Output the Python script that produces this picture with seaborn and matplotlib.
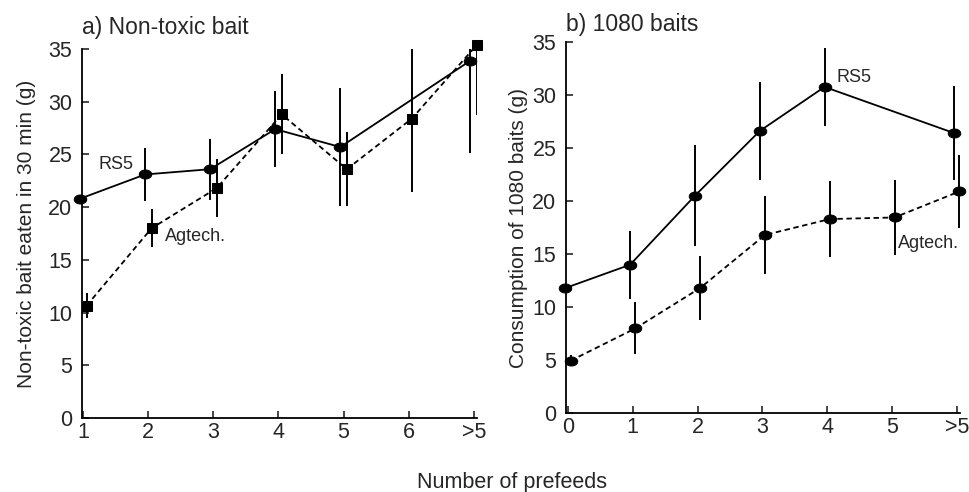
import matplotlib
matplotlib.use("Agg")
import matplotlib.pyplot as plt
import numpy as np
import pandas as pd
import seaborn as sns

# panel a) non-toxic bait, x positions 1..6 and ">5" (7)
a_ticks = [1, 2, 3, 4, 5, 6, 7]
a_labels = ["1", "2", "3", "4", "5", "6", ">5"]
a_rs5_x = [1, 2, 3, 4, 5, 7]
a_rs5_y = [20.8, 23.1, 23.6, 27.4, 25.7, 33.9]
a_rs5_err = [2.0, 2.5, 2.9, 3.6, 5.6, 8.8]
a_agt_x = [1, 2, 3, 4, 5, 6, 7]
a_agt_y = [10.65, 18.0, 21.8, 28.8, 23.6, 28.4, 35.4]
a_agt_err = [1.2, 1.8, 2.75, 3.8, 3.5, 7.0, 6.7]

# panel b) 1080 baits, x positions 0..5 and ">5" (6)
b_ticks = [0, 1, 2, 3, 4, 5, 6]
b_labels = ["0", "1", "2", "3", "4", "5", ">5"]
b_rs5_x = [0, 1, 2, 3, 4, 6]
b_rs5_y = [11.8, 14.0, 20.5, 26.6, 30.75, 26.4]
b_rs5_err = [1.0, 3.2, 4.75, 4.6, 3.7, 4.45]
b_agt_x = [0, 1, 2, 3, 4, 5, 6]
b_agt_y = [4.95, 8.0, 11.8, 16.8, 18.3, 18.45, 20.9]
b_agt_err = [0.5, 2.45, 3.0, 3.65, 3.6, 3.5, 3.4]

sns.set_style("ticks")
plt.rcParams['font.family'] = ['Liberation Sans', 'DejaVu Sans']

# flattened dot like in the scanned figure
t = np.linspace(0, 2 * np.pi, 40)
ellipse = list(zip(np.cos(t), 0.72 * np.sin(t)))

fig = plt.figure(figsize=(9.69, 4.92), dpi=100)
ax_a = fig.add_axes([0.0846, 0.1504, 0.4076, 0.75])
ax_b = fig.add_axes([0.5841, 0.160, 0.4066, 0.755])


def draw_series(ax, x, y, err, marker, ls, shift):
    df = pd.DataFrame({"x": [v + shift for v in x], "y": y})
    sns.lineplot(data=df, x="x", y="y", ax=ax, color="black", linestyle=ls,
                 linewidth=1.3, marker=marker, markersize=9 if marker != "s" else 6.5,
                 markeredgecolor="black", markerfacecolor="black",
                 clip_on=False, zorder=3)
    ax.errorbar(df["x"], df["y"], yerr=err, fmt="none", ecolor="black",
                elinewidth=1.4, capsize=0, zorder=2)


draw_series(ax_a, a_rs5_x, a_rs5_y, a_rs5_err, ellipse, "-", -0.05)
draw_series(ax_a, a_agt_x, a_agt_y, a_agt_err, "s", (0, (3, 2)), 0.05)
draw_series(ax_b, b_rs5_x, b_rs5_y, b_rs5_err, ellipse, "-", -0.04)
draw_series(ax_b, b_agt_x, b_agt_y, b_agt_err, ellipse, (0, (3, 2)), 0.04)

for ax, ticks, labels in [(ax_a, a_ticks, a_labels), (ax_b, b_ticks, b_labels)]:
    ax.set_ylim(0, 35)
    ax.set_yticks(range(0, 36, 5))
    ax.set_xticks(ticks)
    ax.set_xticklabels(labels)
    ax.tick_params(direction="in", length=5, width=1.2, labelsize=15.5, pad=3)
    ax.tick_params(axis="y", pad=7)
    ax.spines["top"].set_visible(False)
    ax.spines["right"].set_visible(False)
    for s in ["left", "bottom"]:
        ax.spines[s].set_linewidth(1.3)
        ax.spines[s].set_color("black")
    ax.set_xlabel("")

ax_a.set_xlim(0.98, 7.05)
ax_b.set_xlim(-0.03, 6.05)

ax_a.set_ylabel("Non-toxic bait eaten in 30 min (g)", fontsize=15, labelpad=9)
ax_b.set_ylabel("Consumption of 1080 baits (g)", fontsize=15, labelpad=3)

ax_a.set_title("a) Non-toxic bait", fontsize=16.5, loc="left", pad=11)
ax_b.set_title("b) 1080 baits", fontsize=16.5, loc="left", pad=8)

ax_a.text(1.5, 24.0, "RS5", fontsize=13, ha="center", va="center")
ax_a.text(2.25, 17.2, "Agtech.", fontsize=13, ha="left", va="center")
ax_b.text(4.15, 31.6, "RS5", fontsize=13, ha="left", va="center")
ax_b.text(5.1, 16.0, "Agtech.", fontsize=13, ha="left", va="center")

fig.text(0.528, 0.008, "Number of prefeeds", fontsize=15.5, ha="center", va="baseline")

fig.savefig("out.png", dpi=100)
